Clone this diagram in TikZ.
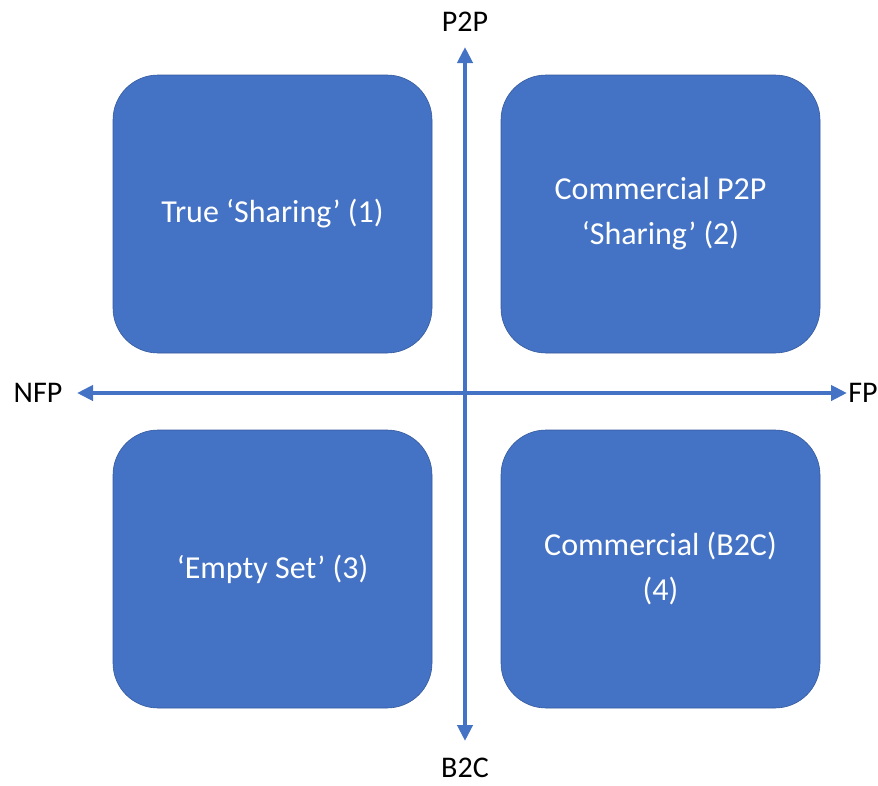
\documentclass[tikz,border=0pt]{standalone}
\usepackage{fontspec}
\setmainfont{Carlito}
\usetikzlibrary{arrows.meta}
\definecolor{boxblue}{HTML}{4472C4}
\begin{document}
\begin{tikzpicture}[x=1pt,y=-1pt,
  quad/.style={fill=boxblue, draw=boxblue!80!black, line width=0.6pt, rounded corners=45pt, minimum width=319pt, minimum height=278pt, text=white, font=\fontsize{32}{45}\selectfont, align=center},
  axis/.style={draw=boxblue, line width=4.5pt, -{Triangle[length=16pt,width=15pt]}},
  axlabel/.style={font=\fontsize{30}{36}\selectfont, text=black, inner sep=1pt}]
\useasboundingbox (0,0) rectangle (878,785);
\node[quad] (q1) at (272.5,214) {True ‘Sharing’ (1)};
\node[quad] (q2) at (660.5,214) {Commercial P2P\\‘Sharing’ (2)};
\node[quad] (q3) at (272.5,569) {‘Empty Set’ (3)};
\node[quad] (q4) at (660.5,569) {Commercial (B2C)\\(4)};
\coordinate (c) at (465,393);
\node[axlabel] (p2p) at (465,22) {P2P};
\node[axlabel] (b2c) at (465,768) {B2C};
\node[axlabel] (nfp) at (38,393) {NFP};
\node[axlabel] (fp) at (863,393) {FP};
\draw[axis] (c) -- (465,47) coordinate (topend);
\draw[axis] (c) -- (465,741) coordinate (botend);
\draw[axis] (c) -- (77,393) coordinate (leftend);
\draw[axis] (c) -- (847,393) coordinate (rightend);
\end{tikzpicture}
\end{document}
